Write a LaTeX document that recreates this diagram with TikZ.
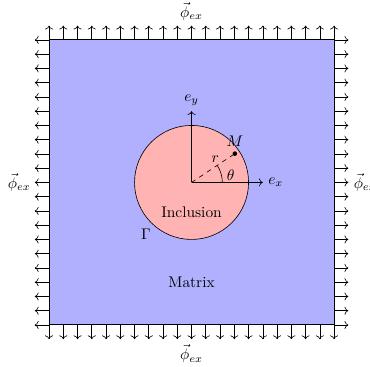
\documentclass[tikz,border=0pt]{standalone}
\usepackage{amsmath,amssymb}
\usepackage{xcolor}
\usepackage{tikz}
\usetikzlibrary{arrows.meta}
\definecolor{MatrixBlue}{HTML}{B0B0FF}
\definecolor{InclPink}{HTML}{FFB3B3}

\begin{document}
\begin{tikzpicture}[x=0.65cm,y=0.65cm,
    load/.style={->,thin},
    axis/.style={->,thin}]
        \useasboundingbox (-1.72,-1.47) rectangle (11.26,11.40);
        % matrix and inclusion
        \node[draw, fill=MatrixBlue, minimum width=6.5cm, minimum height=6.5cm,
          inner sep=0pt, anchor=south west] (matrix) at (0,0) {};
        \node[draw, fill=InclPink, circle, minimum size=2.6cm, inner sep=0pt] (incl) at (5,5) {};
        % boundary loads
        \foreach \i in {0,...,20}{
        \coordinate (t\i) at (0.5*\i,10);
        \coordinate (b\i) at (0.5*\i,0);
        \coordinate (l\i) at (0,0.5*\i);
        \coordinate (r\i) at (10,0.5*\i);
        \draw[load] (t\i) -- ++(0,0.5);
        \draw[load] (b\i) -- ++(0,-0.5);
        \draw[load] (l\i) -- ++(-0.5,0);
        \draw[load] (r\i) -- ++(0.5,0);
        }
        \node[above] (phitop) at (5,10.5) {$\vec{\phi}_{ex}$};
        \node[below] (phibot) at (5,-0.5) {$\vec{\phi}_{ex}$};
        \node[left] (phileft) at (-0.45,5) {$\vec{\phi}_{ex}$};
        \node[right] (phiright) at (10.5,5) {$\vec{\phi}_{ex}$};
        % local frame
        \coordinate (O) at (5,5);
        \coordinate (ex) at (7.5,5);
        \coordinate (ey) at (5,7.5);
        \coordinate (M) at (6.52,6.01);
        \draw[axis] (O) -- (ex) node[right] {$e_x$};
        \draw[axis] (O) -- (ey) node[above] {$e_y$};
        \draw[dashed] (O) -- node[pos=0.55, above=-1pt] {$r$} (M);
        \fill (M) circle (1.5pt) node[above=1pt] {$M$};
        \draw (6.08,5) arc (0:33.5:1.08);
        \node (theta) at (6.37,5.25) {$\theta$};
        \node (incltext) at (5,3.96) {Inclusion};
        \node (gamma) at (3.4,3.2) {$\Gamma$};
        \node (mattext) at (5,1.5) {Matrix};
      \end{tikzpicture}
\end{document}
